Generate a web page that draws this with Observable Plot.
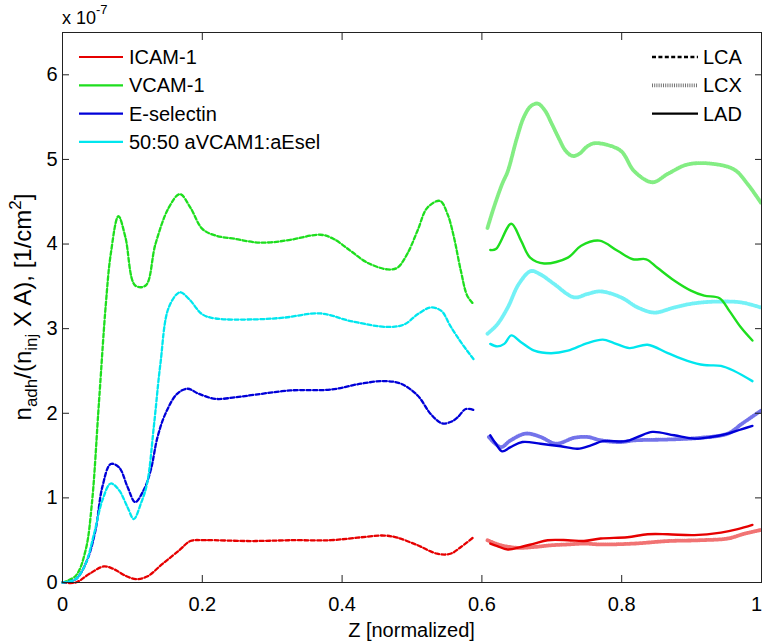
<!DOCTYPE html>
<html><head><meta charset="utf-8">
<script src="https://cdn.jsdelivr.net/npm/d3@7"></script>
<script src="https://cdn.jsdelivr.net/npm/@observablehq/plot@0.6"></script>
<style>body{margin:0;background:#fff}</style>
</head><body><div id="chart"></div>
<script>
// ---- data (values ×1e-7, z normalized) ----
const xTicks = [0, 0.2, 0.4, 0.6, 0.8, 1];
const yTicks = [0, 1, 2, 3, 4, 5, 6];
const agents = ["ICAM-1", "VCAM-1", "E-selectin", "50:50 aVCAM1:aEsel"];
const vessels = ["LCA", "LCX", "LAD"];

const icamLCA = [[0,0],[0.019,0.0],[0.038,0.10],[0.059,0.19],[0.073,0.16],[0.090,0.08],[0.105,0.04],[0.121,0.07],[0.143,0.22],[0.167,0.38],[0.183,0.49],[0.205,0.50],[0.27,0.49],[0.33,0.50],[0.384,0.50],[0.422,0.53],[0.460,0.555],[0.479,0.53],[0.508,0.44],[0.536,0.34],[0.555,0.34],[0.570,0.42],[0.588,0.535]];
const vcamLCA = [[0,0],[0.019,0.08],[0.033,0.38],[0.042,0.93],[0.052,2.11],[0.062,3.29],[0.069,3.88],[0.080,4.33],[0.090,4.08],[0.104,3.51],[0.119,3.51],[0.133,4.00],[0.152,4.43],[0.168,4.59],[0.183,4.43],[0.200,4.18],[0.219,4.10],[0.248,4.06],[0.276,4.02],[0.298,4.02],[0.326,4.05],[0.369,4.11],[0.388,4.06],[0.412,3.92],[0.436,3.78],[0.465,3.70],[0.479,3.72],[0.493,3.88],[0.508,4.16],[0.522,4.43],[0.540,4.51],[0.551,4.35],[0.560,4.08],[0.570,3.68],[0.579,3.39],[0.588,3.29]];
const eselLCA = [[0,0],[0.019,0.04],[0.035,0.26],[0.047,0.61],[0.057,1.13],[0.069,1.40],[0.081,1.36],[0.093,1.13],[0.104,0.95],[0.116,1.09],[0.126,1.32],[0.136,1.72],[0.147,1.99],[0.164,2.23],[0.179,2.29],[0.195,2.23],[0.219,2.17],[0.248,2.19],[0.276,2.22],[0.326,2.27],[0.384,2.28],[0.427,2.35],[0.460,2.38],[0.484,2.35],[0.508,2.21],[0.527,1.99],[0.543,1.88],[0.556,1.90],[0.565,1.95],[0.577,2.05],[0.588,2.04]];
const mixLCA = [[0,0],[0.019,0.04],[0.033,0.22],[0.045,0.57],[0.057,0.97],[0.069,1.17],[0.081,1.09],[0.093,0.89],[0.102,0.75],[0.112,0.93],[0.121,1.17],[0.131,1.87],[0.140,2.58],[0.152,3.25],[0.168,3.43],[0.181,3.35],[0.200,3.17],[0.219,3.12],[0.276,3.11],[0.317,3.13],[0.369,3.18],[0.412,3.09],[0.465,3.02],[0.489,3.05],[0.508,3.17],[0.527,3.25],[0.542,3.21],[0.555,3.03],[0.570,2.84],[0.588,2.64]];

const icamLCX = [[0.608,0.50],[0.627,0.44],[0.651,0.41],[0.675,0.42],[0.699,0.44],[0.723,0.45],[0.746,0.46],[0.770,0.45],[0.818,0.46],[0.866,0.49],[0.913,0.50],[0.952,0.52],[0.975,0.575],[0.999,0.62]];
const vcamLCX = [[0.608,4.19],[0.617,4.43],[0.629,4.71],[0.637,4.86],[0.650,5.25],[0.660,5.50],[0.670,5.63],[0.680,5.66],[0.690,5.58],[0.700,5.42],[0.710,5.25],[0.720,5.10],[0.730,5.04],[0.740,5.07],[0.750,5.15],[0.760,5.19],[0.775,5.18],[0.799,5.10],[0.818,4.86],[0.844,4.73],[0.866,4.83],[0.894,4.94],[0.928,4.95],[0.961,4.88],[0.980,4.71],[0.999,4.49]];
const eselLCX = [[0.610,1.72],[0.627,1.60],[0.641,1.68],[0.663,1.76],[0.684,1.72],[0.706,1.64],[0.732,1.71],[0.751,1.72],[0.770,1.68],[0.799,1.66],[0.818,1.68],[0.866,1.69],[0.913,1.71],[0.952,1.76],[0.971,1.87],[0.985,1.95],[0.999,2.03]];
const mixLCX = [[0.608,2.94],[0.622,3.05],[0.637,3.25],[0.653,3.53],[0.670,3.68],[0.684,3.64],[0.703,3.53],[0.732,3.37],[0.751,3.41],[0.770,3.44],[0.799,3.37],[0.823,3.25],[0.847,3.19],[0.875,3.25],[0.904,3.30],[0.937,3.32],[0.971,3.31],[0.999,3.25]];

const icamLAD = [[0.612,0.46],[0.622,0.43],[0.637,0.39],[0.656,0.42],[0.675,0.46],[0.694,0.50],[0.723,0.50],[0.746,0.49],[0.770,0.52],[0.808,0.535],[0.837,0.57],[0.866,0.57],[0.904,0.56],[0.942,0.59],[0.966,0.63],[0.987,0.68]];
const vcamLAD = [[0.612,3.93],[0.620,3.94],[0.642,4.24],[0.656,4.04],[0.669,3.84],[0.689,3.77],[0.723,3.84],[0.742,3.98],[0.768,4.04],[0.794,3.92],[0.816,3.82],[0.835,3.82],[0.851,3.72],[0.875,3.57],[0.899,3.45],[0.918,3.39],[0.940,3.36],[0.954,3.21],[0.971,3.01],[0.987,2.86]];
const eselLAD = [[0.612,1.74],[0.620,1.64],[0.629,1.55],[0.641,1.60],[0.658,1.66],[0.684,1.64],[0.713,1.61],[0.737,1.58],[0.756,1.62],[0.773,1.67],[0.806,1.67],[0.823,1.72],[0.844,1.78],[0.875,1.74],[0.904,1.70],[0.928,1.72],[0.952,1.76],[0.971,1.81],[0.987,1.85]];
const mixLAD = [[0.612,2.82],[0.622,2.79],[0.632,2.82],[0.642,2.92],[0.656,2.84],[0.675,2.74],[0.699,2.71],[0.723,2.74],[0.751,2.83],[0.773,2.87],[0.789,2.83],[0.811,2.77],[0.837,2.81],[0.866,2.71],[0.894,2.62],[0.918,2.57],[0.942,2.56],[0.961,2.50],[0.987,2.38]];

// ---- styles ----
const colors = ["#e60000", "#1ede1e", "#0000d8", "#00e6ee"];
const vStyle = {
  LCA: {strokeWidth: 2.3, strokeDasharray: "4,2.4", strokeOpacity: 1},
  LCX: {strokeWidth: 3.8, strokeDasharray: "1,1.2", strokeOpacity: 0.55},
  LAD: {strokeWidth: 2.4, strokeDasharray: null, strokeOpacity: 1}
};
const seriesData = {
  LCA: [icamLCA, vcamLCA, eselLCA, mixLCA],
  LCX: [icamLCX, vcamLCX, eselLCX, mixLCX],
  LAD: [icamLAD, vcamLAD, eselLAD, mixLAD]
};

const lineMarks = [];
for (const v of vessels) {
  seriesData[v].forEach((arr, i) => {
    const rows = arr.map(([z, n]) => ({z, n}));
    lineMarks.push(Plot.line(rows, {x: "z", y: "n", stroke: colors[i], curve: "catmull-rom", ...vStyle[v]}));
  });
}

const W = 762, H = 642, mT = 32, mR = 1, mB = 60, mL = 62;
const fmt = d => String(d);

const chart = Plot.plot({
  width: W, height: H,
  marginTop: mT, marginRight: mR, marginBottom: mB, marginLeft: mL,
  x: {domain: [0, 1]},
  y: {domain: [0, 6.5]},
  style: {fontFamily: "'Liberation Sans', Arial, sans-serif", fontSize: "20px", background: "#fff", color: "#000"},
  marks: [
    ...lineMarks,
    Plot.frame({stroke: "#222", strokeWidth: 1}),
    Plot.axisX(xTicks, {anchor: "bottom", tickSize: -7, tickPadding: 21, tickFormat: fmt, label: null, stroke: "#222"}),
    Plot.axisX(xTicks, {anchor: "top", tickSize: -7, tickFormat: () => "", label: null, stroke: "#222"}),
    Plot.axisY(yTicks, {anchor: "left", tickSize: -7, tickPadding: 12, tickFormat: fmt, label: null, stroke: "#222"}),
    Plot.axisY(yTicks, {anchor: "right", tickSize: -7, tickFormat: () => "", label: null, stroke: "#222"})
  ]
});
document.getElementById("chart").appendChild(chart);

// ---- annotations: axis titles, exponent, legends ----
const svg = d3.select(chart);
const ff = "'Liberation Sans', Arial, sans-serif";

// keep the last bottom x tick label ("1") inside the window
const xLabels = svg.selectAll('g[aria-label="x-axis tick label"] text')
  .filter(function () { return this.textContent === "1"; }).nodes();
xLabels.forEach(n => d3.select(n).attr("dx", -5));

svg.append("text").attr("x", (mL + W - mR) / 2).attr("y", 637).attr("text-anchor", "middle")
  .attr("font-family", ff).attr("font-size", 20).attr("fill", "#000").text("Z [normalized]");

const yl = svg.append("text").attr("transform", `translate(31,${(mT + H - mB) / 2}) rotate(-90)`)
  .attr("text-anchor", "middle").attr("font-family", ff).attr("font-size", 24).attr("fill", "#000");
yl.append("tspan").text("n");
yl.append("tspan").attr("font-size", 17).attr("dy", 6).text("adh");
yl.append("tspan").attr("dy", -6).text("/(n");
yl.append("tspan").attr("font-size", 17).attr("dy", 6).text("inj");
yl.append("tspan").attr("dy", -6).text(" X A), [1/cm");
yl.append("tspan").attr("font-size", 17).attr("dy", -10).text("2");
yl.append("tspan").attr("dy", 10).text("]");

const ex = svg.append("text").attr("x", 62).attr("y", 24).attr("text-anchor", "start")
  .attr("font-family", ff).attr("font-size", 18).attr("fill", "#000");
ex.append("tspan").text("x 10");
ex.append("tspan").attr("font-size", 13).attr("dy", -10).text("-7");

// agent legend
const lg1 = svg.append("g");
agents.forEach((a, i) => {
  const y = 57 + i * 28.3;
  lg1.append("line").attr("x1", 79).attr("x2", 123).attr("y1", y).attr("y2", y)
    .attr("stroke", colors[i]).attr("stroke-width", 2.2);
  lg1.append("text").attr("x", 129).attr("y", y + 7).attr("text-anchor", "start")
    .attr("font-family", ff).attr("font-size", 20).attr("fill", "#000").text(a);
});
// vessel legend
const lg2 = svg.append("g");
vessels.forEach((v, i) => {
  const y = 57 + i * 28.3;
  const s = vStyle[v];
  lg2.append("line").attr("x1", 652).attr("x2", 698).attr("y1", y).attr("y2", y)
    .attr("stroke", "#000").attr("stroke-width", v === "LAD" ? 2.2 : s.strokeWidth)
    .attr("stroke-dasharray", s.strokeDasharray).attr("stroke-opacity", s.strokeOpacity);
  lg2.append("text").attr("x", 703).attr("y", y + 7).attr("text-anchor", "start")
    .attr("font-family", ff).attr("font-size", 20).attr("fill", "#000").text(v);
});
</script></body></html>
